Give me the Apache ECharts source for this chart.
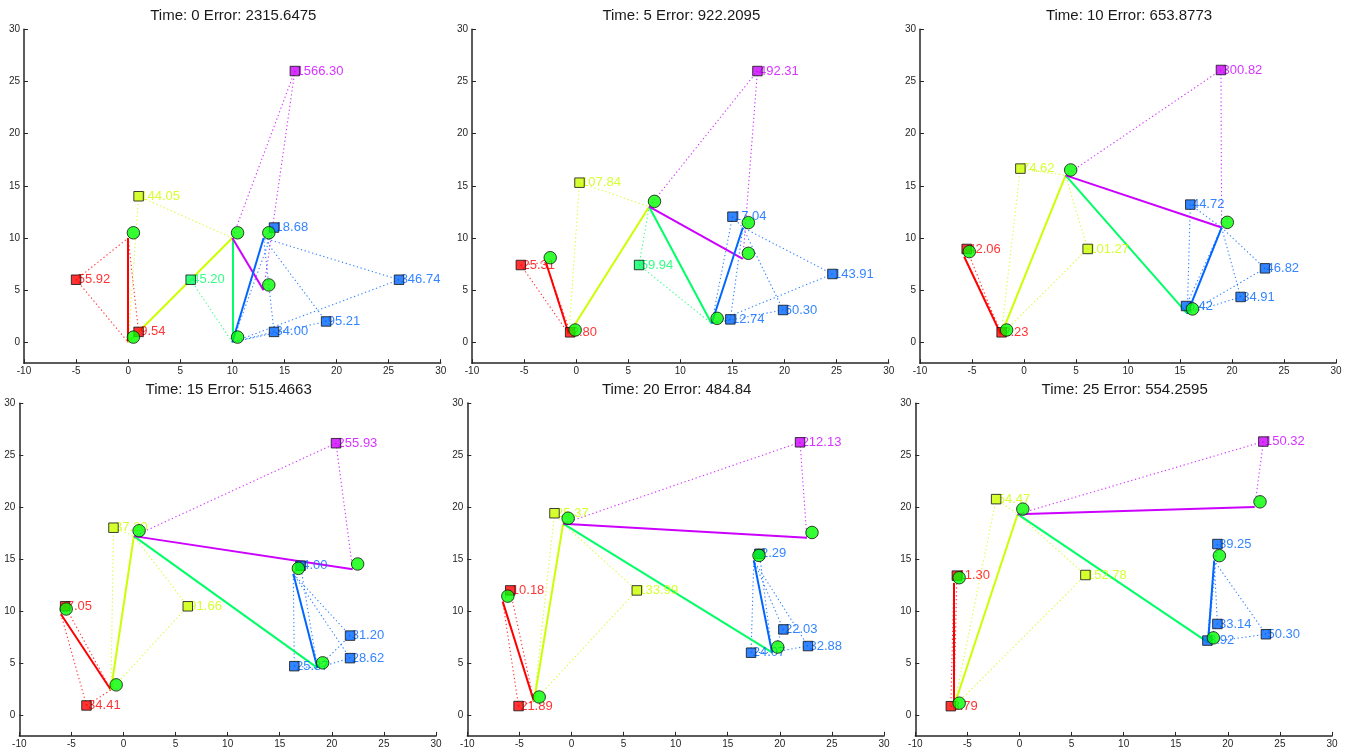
<!DOCTYPE html>
<html>
<head>
<meta charset="utf-8">
<script src="https://cdn.jsdelivr.net/npm/echarts@6/dist/echarts.min.js"></script>
<style>
html,body{margin:0;padding:0;background:#fff;}
#chart{width:1354px;height:752px;}
</style>
</head>
<body>
<div id="chart"></div>
<script>
// ---------- DATA ----------
const titles = [
  'Time: 0 Error: 2315.6475',
  'Time: 5 Error: 922.2095',
  'Time: 10 Error: 653.8773',
  'Time: 15 Error: 515.4663',
  'Time: 20 Error: 484.84',
  'Time: 25 Error: 554.2595'
];
const xTicks = [-10, -5, 0, 5, 10, 15, 20, 25, 30];
const yTicks = [0, 5, 10, 15, 20, 25, 30];

// bone colours: red, yellow-green, green, purple, blue
const boneColors = ['#ff0000', '#ccff00', '#00ff66', '#cc00ff', '#0066ff'];
// bones join joints A..F : A-B, B-C, C-D, C-E, D-F
const boneLinks = [[0, 1], [1, 2], [2, 3], [2, 4], [3, 5]];

// joints A,B,C,D,E,F per frame
const joints0 = [[0, 10], [0, 0], [10, 10], [10, 0], [13, 5], [13, 10]];
const joints1 = [[-2.9, 7.65], [-0.7, 0.8], [7.0, 13.0], [13.0, 1.8], [16.0, 8.0], [16.0, 11.0]];
const joints2 = [[-5.75, 8.2], [-2.2, 0.72], [4.0, 16.0], [15.7, 2.75], [19.0, 11.0], [19.0, 11.0]];
const joints3 = [[-6.0, 9.7], [-1.2, 2.42], [1.0, 17.22], [18.62, 4.54], [22.0, 14.04], [16.3, 13.6]];
const joints4 = [[-6.6, 10.9], [-3.6, 1.3], [-0.8, 18.4], [19.25, 6.02], [22.6, 17.04], [17.5, 14.85]];
const joints5 = [[-6.3, 12.7], [-6.3, 0.8], [-0.18, 19.33], [18.1, 7.0], [22.58, 20.02], [18.69, 14.85]];

// green circle markers per frame
const circles0 = [[0.5, 10.5], [0.5, 0.5], [10.5, 10.5], [10.5, 0.5], [13.5, 5.5], [13.5, 10.5]];
const circles1 = [[-2.49, 8.11], [-0.1, 1.18], [7.52, 13.51], [13.53, 2.3], [16.53, 8.53], [16.53, 11.47]];
const circles2 = [[-5.26, 8.69], [-1.67, 1.18], [4.49, 16.52], [16.2, 3.2], [19.55, 11.5]];
const circles3 = [[-5.5, 10.21], [-0.7, 2.91], [1.5, 17.74], [19.12, 5.03], [22.48, 14.54], [16.79, 14.12]];
const circles4 = [[-6.11, 11.43], [-3.1, 1.73], [-0.32, 18.92], [19.8, 6.53], [23.09, 17.55], [18.0, 15.34]];
const circles5 = [[-5.79, 13.22], [-5.79, 1.15], [0.32, 19.82], [18.61, 7.43], [23.09, 20.52], [19.19, 15.34]];

// targets per frame: [x, y, bone index]
const targets0 = [[-5, 6, 0], [1, 1, 0], [1, 14, 1], [6, 6, 2], [16, 26, 3], [14, 11, 4], [26, 6, 4], [19, 2, 4], [14, 1, 4]];
const targets1 = [[-5.31, 7.41, 0], [-0.58, 0.96, 0], [0.32, 15.3, 1], [6.04, 7.41, 2], [17.4, 26.0, 3], [15.0, 12.04, 4], [24.6, 6.55, 4], [19.86, 3.1, 4], [14.8, 2.2, 4]];
const targets2 = [[-5.51, 8.95, 0], [-2.15, 0.96, 0], [-0.35, 16.65, 1], [6.12, 8.95, 1], [18.94, 26.1, 3], [15.99, 13.2, 4], [23.17, 7.09, 4], [20.83, 4.35, 4], [15.58, 3.48, 4]];
const targets3 = [[-5.6, 10.47, 0], [-3.55, 0.93, 0], [-0.96, 18.03, 1], [6.17, 10.47, 1], [20.4, 26.16, 3], [17.0, 14.38, 4], [21.75, 7.65, 4], [21.75, 5.48, 4], [16.4, 4.71, 4]];
const targets4 = [[-5.88, 11.98, 0], [-5.08, 0.86, 0], [-1.63, 19.4, 1], [6.27, 11.98, 1], [21.94, 26.22, 3], [18.04, 15.5, 4], [20.34, 8.23, 4], [22.7, 6.63, 4], [17.24, 5.99, 4]];
const targets5 = [[-6.01, 13.42, 0], [-6.59, 0.86, 0], [-2.24, 20.78, 1], [6.33, 13.48, 1], [23.41, 26.32, 3], [19.0, 16.46, 4], [19.0, 8.77, 4], [23.66, 7.78, 4], [18.04, 7.17, 4]];

// target error labels per frame
const labels0 = ['55.92', '9.54', '144.05', '45.20', '1566.30', '18.68', '346.74', '95.21', '34.00'];
const labels1 = ['25.31', '2.80', '107.84', '59.94', '492.31', '17.04', '143.91', '60.30', '12.74'];
const labels2 = ['42.06', '2.23', '74.62', '101.27', '300.82', '44.72', '46.82', '34.91', '6.42'];
const labels3 = ['7.05', '34.41', '37.20', '91.66', '255.93', '4.00', '31.20', '28.62', '25.37'];
const labels4 = ['10.18', '21.89', '25.37', '133.99', '212.13', '2.29', '22.03', '32.88', '24.07'];
const labels5 = ['11.30', '3.79', '54.47', '152.78', '150.32', '89.25', '33.14', '50.30', '8.92'];

// ---------- LAYOUT / BUILD ----------
const frames = [
  {joints: joints0, circles: circles0, targets: targets0, labels: labels0},
  {joints: joints1, circles: circles1, targets: targets1, labels: labels1},
  {joints: joints2, circles: circles2, targets: targets2, labels: labels2},
  {joints: joints3, circles: circles3, targets: targets3, labels: labels3},
  {joints: joints4, circles: circles4, targets: targets4, labels: labels4},
  {joints: joints5, circles: circles5, targets: targets5, labels: labels5}
];
const gridBoxes = [
  {left: 24, top: 29.3, width: 416.7, height: 333.9},
  {left: 472, top: 29.3, width: 416.7, height: 333.9},
  {left: 920, top: 29.3, width: 416, height: 333.9},
  {left: 19.3, top: 403.3, width: 416.7, height: 332.6},
  {left: 467.3, top: 403.0, width: 416.7, height: 332.8},
  {left: 915.3, top: 403.3, width: 416.7, height: 332.6}
];
const FONT = '"Liberation Sans", Arial, Helvetica, sans-serif';
const axisColor = '#262626';

const grid = [], xAxis = [], yAxis = [], series = [], title = [];
frames.forEach((f, i) => {
  const g = gridBoxes[i];
  grid.push({left: g.left, top: g.top, width: g.width, height: g.height, containLabel: false});
  title.push({
    text: titles[i], left: g.left + g.width / 2 + 1, top: (i < 3 ? 8.5 : 382), textAlign: 'center', padding: 0,
    textStyle: {fontFamily: FONT, fontSize: 15, fontWeight: 'normal', color: '#1a1a1a'}
  });
  xAxis.push({
    gridIndex: i, type: 'value', min: -10, max: 30, interval: 5,
    axisLine: {show: true, onZero: false, lineStyle: {color: axisColor, width: 1.5}},
    axisTick: {show: true, inside: true, length: 4, lineStyle: {color: axisColor, width: 1}},
    axisLabel: {fontFamily: FONT, fontSize: 10, color: axisColor, margin: 3, showMinLabel: true, showMaxLabel: true},
    splitLine: {show: false}
  });
  yAxis.push({
    gridIndex: i, type: 'value', min: -2, max: 30,
    axisLine: {show: true, onZero: false, lineStyle: {color: axisColor, width: 1.5}},
    axisTick: {show: true, inside: true, length: 4, customValues: yTicks, lineStyle: {color: axisColor, width: 1}},
    axisLabel: {fontFamily: FONT, fontSize: 10, color: axisColor, margin: 4, customValues: yTicks},
    splitLine: {show: false}
  });

  // dotted lines target -> both ends of assigned bone
  const dotted = [];
  f.targets.forEach(t => {
    const link = boneLinks[t[2]];
    link.forEach(j => {
      dotted.push({coords: [[t[0], t[1]], f.joints[j]], lineStyle: {color: boneColors[t[2]]}});
    });
  });
  series.push({
    type: 'lines', coordinateSystem: 'cartesian2d', xAxisIndex: i, yAxisIndex: i, z: 1,
    silent: true, polyline: false,
    lineStyle: {width: 1.1, type: [1.3, 2.6], opacity: 0.8},
    data: dotted
  });
  // bones
  series.push({
    type: 'lines', coordinateSystem: 'cartesian2d', xAxisIndex: i, yAxisIndex: i, z: 2,
    silent: true, polyline: false,
    lineStyle: {width: 2, type: 'solid', opacity: 1},
    data: boneLinks.map((l, b) => ({coords: [f.joints[l[0]], f.joints[l[1]]], lineStyle: {color: boneColors[b]}}))
  });
  // labels (drawn below squares)
  series.push({
    type: 'scatter', xAxisIndex: i, yAxisIndex: i, z: 3, silent: true,
    symbol: 'circle', symbolSize: 1, itemStyle: {color: 'rgba(0,0,0,0)'},
    label: {show: true, position: 'right', distance: 1.1, formatter: '{b}', fontFamily: FONT, fontSize: 13},
    data: f.targets.map((t, k) => ({name: f.labels[k], value: [t[0], t[1]], label: {color: boneColors[t[2]]}}))
  });
  // target squares
  series.push({
    type: 'scatter', xAxisIndex: i, yAxisIndex: i, z: 4, silent: true,
    symbol: 'rect', symbolSize: 9.5,
    data: f.targets.map(t => ({value: [t[0], t[1]], itemStyle: {color: boneColors[t[2]], borderColor: '#111', borderWidth: 1}}))
  });
  // green circles
  series.push({
    type: 'scatter', xAxisIndex: i, yAxisIndex: i, z: 5, silent: true,
    symbol: 'circle', symbolSize: 12.5,
    itemStyle: {color: '#00ff00', borderColor: '#111', borderWidth: 1},
    data: f.circles
  });
});

const chart = echarts.init(document.getElementById('chart'), null, {renderer: 'canvas'});
chart.setOption({animation: false, backgroundColor: '#ffffff', title, grid, xAxis, yAxis, series});
</script>
</body>
</html>
